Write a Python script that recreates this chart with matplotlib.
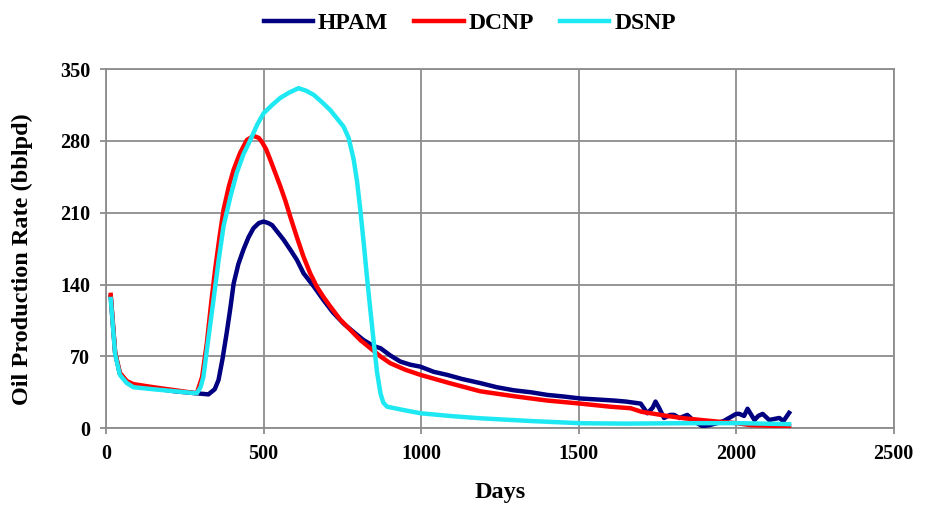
import matplotlib.pyplot as plt

# HPAM
hpam_days = [15, 29, 44, 66, 87, 150, 220, 290, 325, 345, 357, 370, 383, 395, 405, 420, 436, 452, 468,
             485, 500, 515, 527, 545, 563, 585, 606, 627, 660, 690, 720, 754, 785, 817, 850, 871, 902,
             934, 965, 998, 1040, 1083, 1130, 1188, 1240, 1294, 1350, 1400, 1450, 1506, 1560, 1612,
             1650, 1697, 1718, 1735, 1744, 1755, 1771, 1790, 1803, 1820, 1845, 1870, 1893, 1915, 1940,
             1960, 1983, 2000, 2010, 2025, 2036, 2058, 2070, 2084, 2105, 2120, 2137, 2150, 2168]
hpam_rate = [128, 73, 53, 45, 42, 39, 36, 34, 33, 38, 47, 68, 93, 118, 141, 160, 174, 186, 195,
             200, 201.5, 200, 198, 191, 184, 174, 164, 151, 138, 125, 113, 102, 94, 86, 80, 78, 71,
             65, 62, 60, 55, 52, 48, 44, 40, 37, 35, 32.5, 31, 29, 28, 27,
             26, 24, 14.6, 20, 26, 20, 10, 13, 13, 10, 13, 6, 2, 3, 5,
             7, 11, 14, 14, 12, 19, 8, 12, 14, 8, 9, 10, 7, 15]

# DCNP
dcnp_days = [15, 29, 44, 66, 87, 150, 220, 288, 305, 320, 333, 346, 360, 373, 390, 405, 425, 447, 468,
             485, 495, 508, 521, 537, 553, 570, 585, 606, 627, 648, 669, 690, 712, 743, 775, 807, 839,
             871, 902, 950, 998, 1090, 1188, 1300, 1400, 1506, 1600, 1665, 1700, 1729, 1780, 1835,
             1890, 1940, 2000, 2046, 2168]
dcnp_rate = [130, 74, 54, 46, 43, 40, 37, 34, 50, 83, 120, 154, 186, 213, 236, 252, 268, 281, 285,
             283, 279, 272, 262, 249, 236, 221, 206, 186, 167, 151, 138, 128, 118.6, 106, 96, 86, 78,
             70, 63.4, 57, 52, 44, 36, 31, 27, 24, 21, 19.5, 16, 14.6, 12, 9.7,
             8, 6.5, 5, 3, 2]

# DSNP
dsnp_days = [15, 29, 44, 66, 87, 150, 220, 288, 300, 309, 325, 341, 357, 373, 395, 415, 436, 458, 480,
             500, 527, 553, 580, 611, 635, 659, 685, 712, 733, 754, 770, 786, 797, 807, 818, 828, 839,
             850, 860, 871, 880, 892, 940, 998, 1090, 1188, 1350, 1506, 1650, 1824, 2000, 2168]
dsnp_rate = [126, 72, 52, 44, 40, 38, 36, 34, 40, 50, 88, 125, 163, 197, 226, 249, 267, 281, 296,
             307, 315, 322, 327, 331.5, 329, 325, 318, 310, 302, 294, 283, 262, 240, 213, 180, 148, 115,
             83, 55, 34, 25, 21, 18, 14.6, 12, 9.7, 7, 4.9, 4.5, 4.9, 5, 4]

x_ticks = [0, 500, 1000, 1500, 2000, 2500]
y_ticks = [0, 70, 140, 210, 280, 350]

plt.rcParams['font.family'] = ['Liberation Serif', 'DejaVu Serif']
plt.rcParams['font.weight'] = 'bold'

fig = plt.figure(figsize=(9.3, 5.05), dpi=100)
ax = fig.add_axes([0.114, 0.152, 0.847, 0.711])

ax.plot(hpam_days, hpam_rate, color='#000080', lw=3.2, label='HPAM', zorder=3)
ax.plot(dcnp_days, dcnp_rate, color='#ff0000', lw=3.2, label='DCNP', zorder=4)
ax.plot(dsnp_days, dsnp_rate, color='#1ee8f2', lw=3.2, label='DSNP', zorder=5)

ax.set_xlim(0, 2500)
ax.set_ylim(0, 350)
ax.set_xticks(x_ticks)
ax.set_yticks(y_ticks)
ax.grid(True, color='#8c8c8c', lw=1.3)
ax.set_axisbelow(True)
for s in ax.spines.values():
    s.set_color('#8c8c8c')
    s.set_linewidth(1.3)
ax.tick_params(direction='out', length=4.5, width=1.3, color='#8c8c8c', labelsize=14.5, pad=7)
for lab in ax.get_xticklabels() + ax.get_yticklabels():
    lab.set_fontweight('bold')

ax.set_xlabel('Days', fontsize=17.5, fontweight='bold', labelpad=13)
ax.set_ylabel('Oil Production Rate (bblpd)', fontsize=17.5, fontweight='bold')
ax.yaxis.set_label_coords(-0.093, 0.47)

fig.legend(loc='center', bbox_to_anchor=(0.505, 0.953), ncol=3, frameon=False,
           prop={'size': 17, 'weight': 'bold'}, handlelength=2.1, columnspacing=1.1, handletextpad=0.2)

plt.savefig('out.png', dpi=100)
